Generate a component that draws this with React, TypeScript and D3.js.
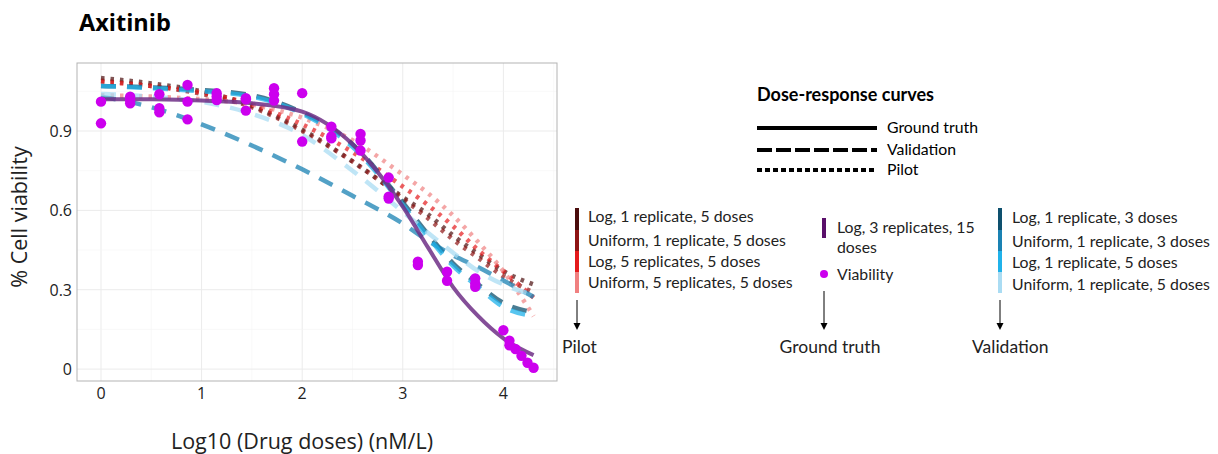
import { useEffect, useRef } from 'react';
import * as d3 from 'd3';

const doseGrid = [0, 0.5, 1, 1.5, 2, 2.5, 3, 3.25, 3.5, 3.75, 4, 4.3];

const groundTruth = [1.02, 1.02, 1.015, 1.005, 0.973, 0.85, 0.614, 0.46, 0.31, 0.2, 0.116, 0.053];

const valLog1Rep3 = [1.07, 1.065, 1.055, 1.035, 0.97, 0.85, 0.63, 0.51, 0.40, 0.32, 0.25, 0.215];
const valUni1Rep3 = [1.03, 0.99, 0.925, 0.845, 0.755, 0.655, 0.55, 0.485, 0.43, 0.385, 0.335, 0.273];
const valLog1Rep5 = [1.07, 1.062, 1.05, 1.03, 0.965, 0.84, 0.62, 0.5, 0.39, 0.31, 0.235, 0.2];
const valUni1Rep5 = [1.04, 1.03, 1.01, 0.965, 0.885, 0.75, 0.595, 0.515, 0.44, 0.37, 0.32, 0.28];

const pilLog1Rep5 = [1.10, 1.08, 1.05, 0.995, 0.905, 0.785, 0.65, 0.585, 0.505, 0.435, 0.37, 0.32];
const pilUni1Rep5 = [1.09, 1.07, 1.04, 0.99, 0.9, 0.785, 0.645, 0.57, 0.49, 0.42, 0.35, 0.29];
const pilLog5Rep5 = [1.085, 1.07, 1.045, 1.0, 0.925, 0.82, 0.69, 0.62, 0.54, 0.45, 0.37, 0.27];
const pilUni5Rep5 = [1.035, 1.03, 1.02, 1.0, 0.95, 0.865, 0.735, 0.665, 0.58, 0.48, 0.37, 0.2];

// observed viability (log10 dose, viability)
const viabilityDose = [
  0, 0, 0.29, 0.29, 0.29, 0.58, 0.58, 0.58, 0.86, 0.86, 0.86,
  1.15, 1.15, 1.15, 1.44, 1.44, 1.44, 1.72, 1.72, 1.72, 2.0, 2.0,
  2.29, 2.29, 2.29, 2.58, 2.58, 2.58, 2.86, 2.86, 2.86, 3.15, 3.15,
  3.44, 3.44, 3.72, 3.72, 3.72, 4.0, 4.06, 4.06, 4.12, 4.18, 4.24, 4.3
];
const viabilityValue = [
  1.011, 0.929, 1.03, 1.017, 1.005, 1.039, 0.986, 0.971, 1.074, 1.011, 0.944,
  1.043, 1.03, 1.017, 1.024, 1.02, 0.977, 1.062, 1.039, 1.015, 1.043, 0.86,
  0.916, 0.879, 0.872, 0.889, 0.864, 0.826, 0.724, 0.652, 0.645, 0.406, 0.393,
  0.368, 0.334, 0.343, 0.324, 0.311, 0.147, 0.107, 0.09, 0.076, 0.05, 0.024, 0.005
];

const xTicks = [0, 1, 2, 3, 4];
const yTicks = [0, 0.3, 0.6, 0.9];

const pilotLabels = [
  'Log, 1 replicate, 5 doses',
  'Uniform, 1 replicate, 5 doses',
  'Log, 5 replicates, 5 doses',
  'Uniform, 5 replicates, 5 doses'
];
const pilotColors = ['#4a0d0d', '#8e1414', '#e41a1c', '#f08080'];
const validationLabels = [
  'Log, 1 replicate, 3 doses',
  'Uniform, 1 replicate, 3 doses',
  'Log, 1 replicate, 5 doses',
  'Uniform, 1 replicate, 5 doses'
];
const validationColors = ['#0e506e', '#1a82b3', '#20b2ea', '#aadcf3'];
const groundTruthColor = '#5a0f6a';
const viabilityColor = '#cc00ee';

const App = () => {
  const svgRef = useRef<SVGSVGElement>(null);

  useEffect(() => {
    const svg = d3.select(svgRef.current);
    svg.selectAll('*').remove();

    const x = d3.scaleLinear().domain([-0.2385, 4.533]).range([77, 557]);
    const y = d3.scaleLinear().domain([-0.045, 1.157]).range([381, 63]);
    const axisFont = "'Open Sans', sans-serif";
    const legendFont = "Lato, sans-serif";
    const fs = 15.8;

    // title
    svg.append('text').attr('x', 79).attr('y', 31)
      .attr('font-family', axisFont).attr('font-weight', 700).attr('font-size', 23.5)
      .text('Axitinib');

    const panel = svg.append('g');
    panel.append('rect').attr('x', 77).attr('y', 63).attr('width', 480).attr('height', 318)
      .attr('fill', '#fff');

    // grid
    d3.range(-0.5, 4.6, 0.5).filter(v => x(v) > 77 && x(v) < 557).forEach(v => {
      panel.append('line').attr('x1', x(v)).attr('x2', x(v)).attr('y1', 63).attr('y2', 381)
        .attr('stroke', Number.isInteger(v) ? '#ebebeb' : '#f5f5f5').attr('stroke-width', Number.isInteger(v) ? 1 : 0.6);
    });
    d3.range(0, 1.16, 0.15).forEach(v => {
      const major = Math.round(v / 0.15) % 2 === 0;
      panel.append('line').attr('x1', 77).attr('x2', 557).attr('y1', y(v)).attr('y2', y(v))
        .attr('stroke', major ? '#ebebeb' : '#f5f5f5').attr('stroke-width', major ? 1 : 0.6);
    });

    const line = d3.line<number>()
      .x((_, i) => x(doseGrid[i]))
      .y(d => y(d))
      .curve(d3.curveMonotoneX);

    const pilots = [pilLog1Rep5, pilUni1Rep5, pilLog5Rep5, pilUni5Rep5];
    pilots.forEach((vals, i) => {
      panel.append('path').attr('d', line(vals)).attr('fill', 'none')
        .attr('stroke', pilotColors[i]).attr('stroke-width', 4.5).attr('opacity', 0.7)
        .attr('stroke-dasharray', '3.5,6');
    });

    const validations = [valLog1Rep3, valUni1Rep3, valLog1Rep5, valUni1Rep5];
    validations.forEach((vals, i) => {
      panel.append('path').attr('d', line(vals)).attr('fill', 'none')
        .attr('stroke', validationColors[i]).attr('stroke-width', 4.5).attr('opacity', 0.75)
        .attr('stroke-dasharray', '15,11');
    });

    panel.append('path').attr('d', line(groundTruth)).attr('fill', 'none')
      .attr('stroke', '#6e2f86').attr('stroke-width', 4).attr('opacity', 0.85);

    panel.selectAll('circle.pt').data(viabilityDose).enter().append('circle')
      .attr('class', 'pt')
      .attr('cx', d => x(d)).attr('cy', (_, i) => y(viabilityValue[i]))
      .attr('r', 5.2).attr('fill', viabilityColor);

    panel.append('rect').attr('x', 77).attr('y', 63).attr('width', 480).attr('height', 318)
      .attr('fill', 'none').attr('stroke', '#b3b3b3').attr('stroke-width', 1);

    // axes labels
    xTicks.forEach(t => {
      svg.append('text').attr('x', x(t)).attr('y', 399).attr('text-anchor', 'middle')
        .attr('font-family', axisFont).attr('font-size', 16).attr('fill', '#222').text(String(t));
    });
    yTicks.forEach(t => {
      svg.append('text').attr('x', 72).attr('y', y(t) + 6).attr('text-anchor', 'end')
        .attr('font-family', axisFont).attr('font-size', 16).attr('fill', '#222').text(String(t));
    });
    svg.append('text').attr('x', 302).attr('y', 449).attr('text-anchor', 'middle')
      .attr('font-family', axisFont).attr('font-size', 21.5).attr('fill', '#222')
      .text('Log10 (Drug doses) (nM/L)');
    svg.append('text').attr('transform', 'translate(27,217) rotate(-90)').attr('text-anchor', 'middle')
      .attr('font-family', axisFont).attr('font-size', 21.5).attr('fill', '#222')
      .text('% Cell viability');

    // line type legend
    svg.append('text').attr('x', 757).attr('y', 101).attr('font-family', legendFont)
      .attr('font-weight', 700).attr('font-size', 18).text('Dose-response curves');
    const styles = [
      { label: 'Ground truth', dash: null, yy: 128 },
      { label: 'Validation', dash: '15,4', yy: 150 },
      { label: 'Pilot', dash: '5,3', yy: 170 }
    ];
    styles.forEach(s => {
      const l = svg.append('line').attr('x1', 757).attr('x2', 877).attr('y1', s.yy).attr('y2', s.yy)
        .attr('stroke', '#000').attr('stroke-width', 4);
      if (s.dash) l.attr('stroke-dasharray', s.dash);
      svg.append('text').attr('x', 887).attr('y', s.yy + 5).attr('font-family', legendFont)
        .attr('font-size', fs).text(s.label);
    });

    const arrow = (ax: number, y1: number, y2: number) => {
      svg.append('line').attr('x1', ax).attr('x2', ax).attr('y1', y1).attr('y2', y2 - 5)
        .attr('stroke', '#000').attr('stroke-width', 1);
      svg.append('path').attr('d', `M${ax - 3.5},${y2 - 7} L${ax + 3.5},${y2 - 7} L${ax},${y2} Z`).attr('fill', '#000');
    };

    const colorBlock = (bx: number, labels: string[], colors: string[], tx: number, centers: number[]) => {
      const edges = [208, 230, 251, 272, 293];
      colors.forEach((c, i) => {
        svg.append('rect').attr('x', bx).attr('y', edges[i]).attr('width', 4)
          .attr('height', edges[i + 1] - edges[i]).attr('fill', c);
      });
      labels.forEach((l, i) => {
        svg.append('text').attr('x', tx).attr('y', centers[i] + 5).attr('font-family', legendFont)
          .attr('font-size', fs).attr('fill', '#222').text(l);
      });
    };

    colorBlock(575, pilotLabels, pilotColors, 588, [217, 241, 262, 283]);
    arrow(577, 300, 330);
    svg.append('text').attr('x', 562).attr('y', 353).attr('font-family', legendFont)
      .attr('font-size', 17.5).attr('fill', '#222').text('Pilot');

    svg.append('rect').attr('x', 822).attr('y', 218).attr('width', 4).attr('height', 20).attr('fill', groundTruthColor);
    svg.append('text').attr('x', 837).attr('y', 233).attr('font-family', legendFont)
      .attr('font-size', fs).attr('fill', '#222').text('Log, 3 replicates, 15');
    svg.append('text').attr('x', 837).attr('y', 253).attr('font-family', legendFont)
      .attr('font-size', fs).attr('fill', '#222').text('doses');
    svg.append('circle').attr('cx', 824).attr('cy', 274).attr('r', 4).attr('fill', viabilityColor);
    svg.append('text').attr('x', 837).attr('y', 280).attr('font-family', legendFont)
      .attr('font-size', fs).attr('fill', '#222').text('Viability');
    arrow(824, 291, 330);
    svg.append('text').attr('x', 830).attr('y', 353).attr('text-anchor', 'middle').attr('font-family', legendFont)
      .attr('font-size', 17.5).attr('fill', '#222').text('Ground truth');

    colorBlock(998, validationLabels, validationColors, 1012, [218, 242, 263, 285]);
    arrow(1000, 300, 330);
    svg.append('text').attr('x', 972).attr('y', 353).attr('font-family', legendFont)
      .attr('font-size', 17.5).attr('fill', '#222').text('Validation');
  }, []);

  return (
    <svg ref={svgRef} width={1218} height={454}
      style={{ position: 'absolute', left: 0, top: 0, background: '#fff' }} />
  );
};

export default App;
